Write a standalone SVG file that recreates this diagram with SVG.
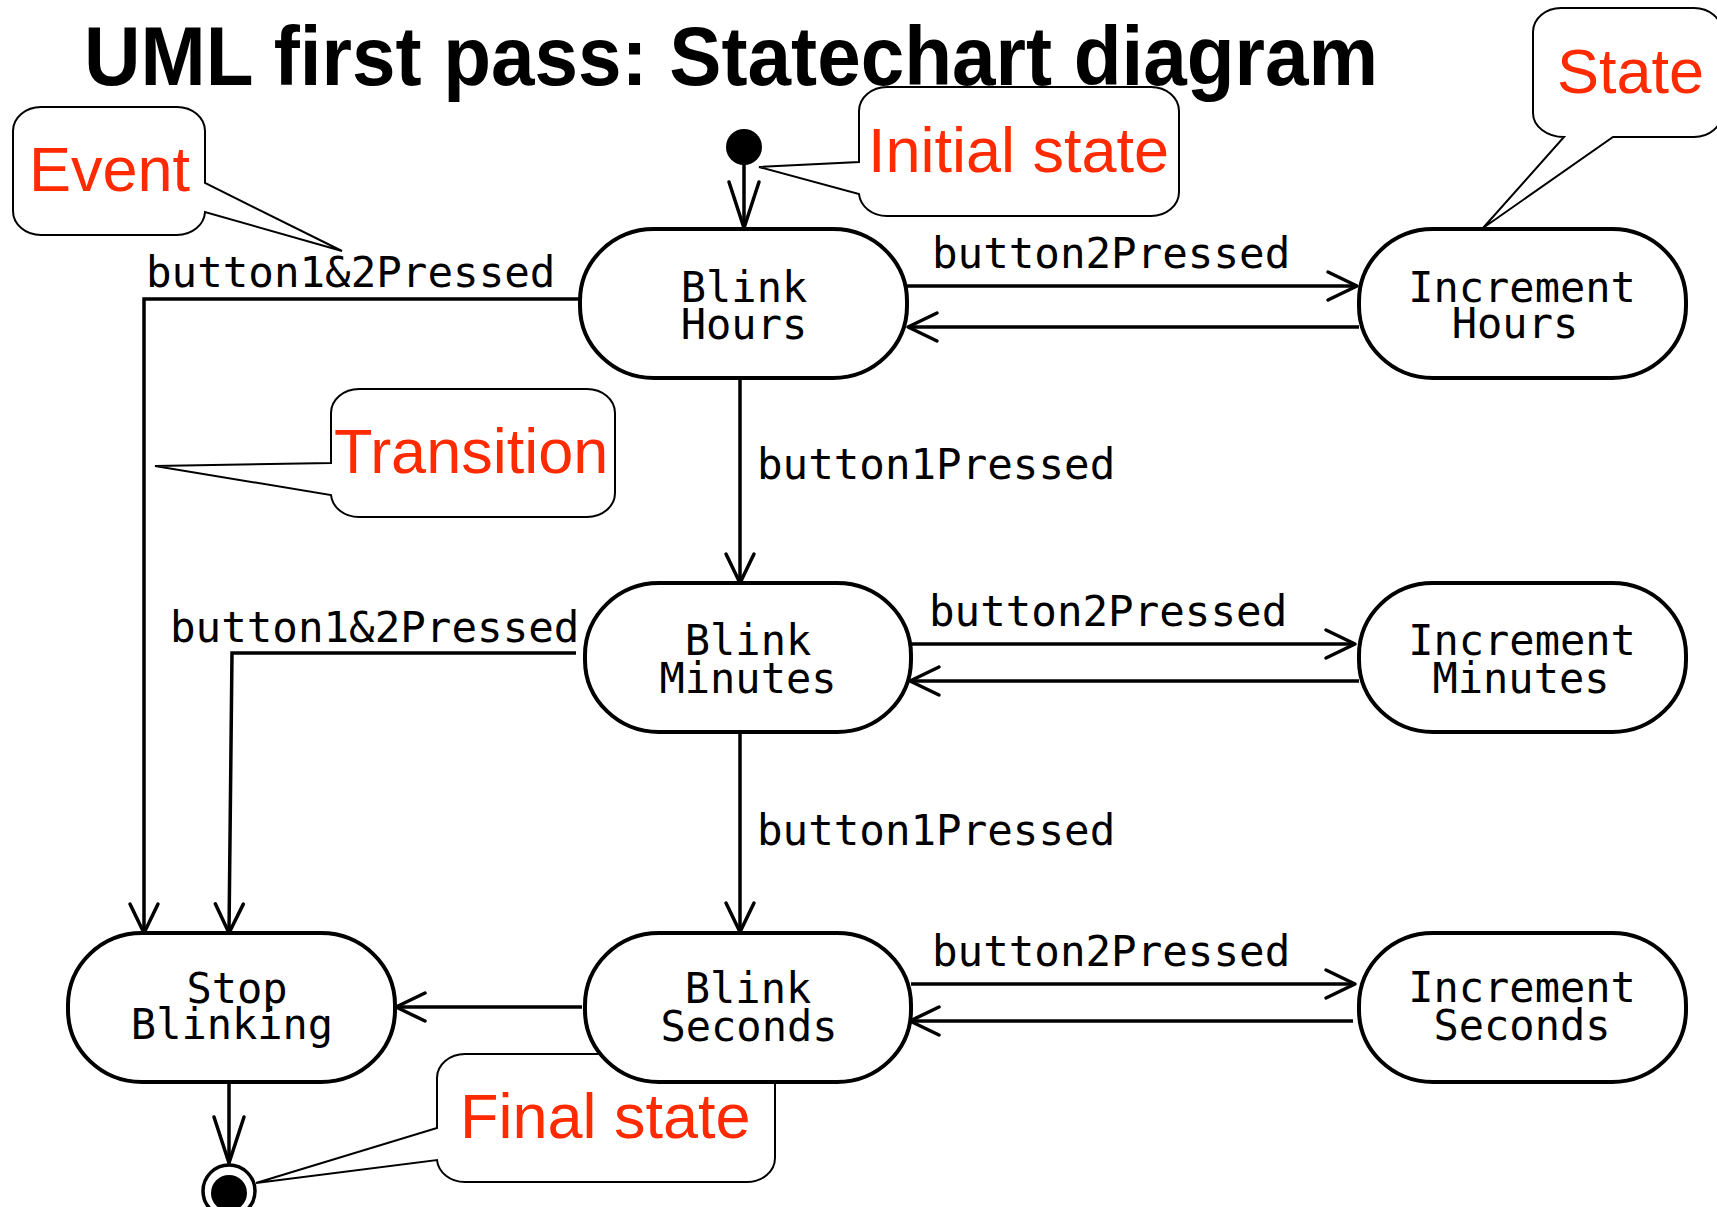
<svg xmlns="http://www.w3.org/2000/svg" width="1717" height="1207" viewBox="0 0 1717 1207">
<style>
  .node { fill: #fff; stroke: #000; stroke-width: 4; }
  .ntext { font-family: "DejaVu Sans Mono", "Liberation Mono", monospace; font-size: 42px; fill: #000; text-anchor: middle; }
  .lbl { font-family: "DejaVu Sans Mono", "Liberation Mono", monospace; font-size: 42.5px; fill: #000; }
  .conn { fill: none; stroke: #000; stroke-width: 3.5; }
  .callout { fill: #fff; stroke: #000; stroke-width: 2; stroke-linejoin: miter; }
  .ctext { font-family: "Liberation Sans", Arial, sans-serif; font-size: 63px; fill: #FF2A00; }
  .title { font-family: "Liberation Sans", Arial, sans-serif; font-size: 84px; font-weight: bold; fill: #000; }
</style>
<defs>
  <marker id="arr" markerUnits="userSpaceOnUse" markerWidth="50" markerHeight="50" viewBox="-40 -25 50 50" refX="0" refY="0" orient="auto">
    <path d="M-29,-14 L0,0 L-29,14" fill="none" stroke="#000" stroke-width="3.5" stroke-linejoin="round" stroke-linecap="round"/>
  </marker>
  <marker id="arrL" markerUnits="userSpaceOnUse" markerWidth="70" markerHeight="50" viewBox="-60 -25 70 50" refX="0" refY="0" orient="auto">
    <path d="M-46,-15 L0,0 L-46,15" fill="none" stroke="#000" stroke-width="3.5" stroke-linejoin="round" stroke-linecap="round"/>
  </marker>
</defs>
<rect x="0" y="0" width="1717" height="1207" fill="#fff"/>

<text class="title" x="84" y="85" textLength="1294" lengthAdjust="spacingAndGlyphs">UML first pass: Statechart diagram</text>

<g id="callouts">
  <g id="callout-event">
    <path class="callout" d="M41,107 H177 A28,24 0 0 1 205,131 V183 L342,251 L205,212 A28,24 0 0 1 177,235 H41 A28,24 0 0 1 13,211 V131 A28,24 0 0 1 41,107 Z"/>
    <text class="ctext" x="29" y="191">Event</text>
  </g>
  <g id="callout-transition">
    <path class="callout" d="M359,389 H587 A28,24 0 0 1 615,413 V493 A28,24 0 0 1 587,517 H359 A28,24 0 0 1 331,495 L155,466 L331,463 V413 A28,24 0 0 1 359,389 Z"/>
    <text class="ctext" x="334" y="473">Transition</text>
  </g>
  <g id="callout-initial">
    <path class="callout" d="M887,87 H1151 A28,24 0 0 1 1179,111 V192 A28,24 0 0 1 1151,216 H887 A28,24 0 0 1 859,194 L759,167 L859,162 V111 A28,24 0 0 1 887,87 Z"/>
    <text class="ctext" x="868" y="172">Initial state</text>
  </g>
  <g id="callout-state">
    <path class="callout" d="M1561,8 H1694 A28,24 0 0 1 1722,32 V113 A28,24 0 0 1 1694,137 H1613 L1483,228 L1564,137 A31,24 0 0 1 1533,113 V32 A28,24 0 0 1 1561,8 Z"/>
    <text class="ctext" x="1557" y="93">State</text>
  </g>
  <g id="callout-final">
    <path class="callout" d="M465,1054 H747 A28,24 0 0 1 775,1078 V1158 A28,24 0 0 1 747,1182 H465 A28,24 0 0 1 437,1160 L256,1183 L437,1128 V1078 A28,24 0 0 1 465,1054 Z"/>
    <text class="ctext" x="460" y="1138">Final state</text>
  </g>
</g>

<g id="connectors">
  <path class="conn" d="M744,160 V228" marker-end="url(#arrL)"/>
  <path class="conn" d="M907,286 H1357" marker-end="url(#arr)"/>
  <path class="conn" d="M1359,327 H908" marker-end="url(#arr)"/>
  <path class="conn" d="M740,376 V583" marker-end="url(#arr)"/>
  <path class="conn" d="M580,299 H144 V933" marker-end="url(#arr)"/>
  <path class="conn" d="M911,644 H1355" marker-end="url(#arr)"/>
  <path class="conn" d="M1359,681 H910" marker-end="url(#arr)"/>
  <path class="conn" d="M576,653 H232 L229,933" marker-end="url(#arr)"/>
  <path class="conn" d="M740,731 V932" marker-end="url(#arr)"/>
  <path class="conn" d="M911,984 H1355" marker-end="url(#arr)"/>
  <path class="conn" d="M1353,1021 H910" marker-end="url(#arr)"/>
  <path class="conn" d="M582,1007 H396" marker-end="url(#arr)"/>
  <path class="conn" d="M229,1083 V1163" marker-end="url(#arrL)"/>
</g>

<g id="labels">
  <text class="lbl" x="146" y="287">button1&amp;2Pressed</text>
  <text class="lbl" x="932" y="268">button2Pressed</text>
  <text class="lbl" x="757" y="479">button1Pressed</text>
  <text class="lbl" x="170" y="642">button1&amp;2Pressed</text>
  <text class="lbl" x="929" y="626">button2Pressed</text>
  <text class="lbl" x="757" y="845">button1Pressed</text>
  <text class="lbl" x="932" y="966">button2Pressed</text>
</g>

<g id="initial-state">
  <circle cx="744" cy="147" r="18" fill="#000"/>
</g>

<g id="blink-hours">
  <rect class="node" x="580" y="229" width="327" height="149" rx="74" ry="72"/>
  <text class="ntext" x="744" y="302">Blink</text>
  <text class="ntext" x="744" y="339">Hours</text>
</g>
<g id="increment-hours">
  <rect class="node" x="1359" y="229" width="327" height="149" rx="74" ry="72"/>
  <text class="ntext" x="1522" y="302">Increment</text>
  <text class="ntext" x="1515" y="338">Hours</text>
</g>
<g id="blink-minutes">
  <rect class="node" x="585" y="583" width="326" height="149" rx="74" ry="72"/>
  <text class="ntext" x="748" y="655">Blink</text>
  <text class="ntext" x="748" y="693">Minutes</text>
</g>
<g id="increment-minutes">
  <rect class="node" x="1359" y="583" width="327" height="149" rx="74" ry="72"/>
  <text class="ntext" x="1522" y="655">Increment</text>
  <text class="ntext" x="1521" y="693">Minutes</text>
</g>
<g id="stop-blinking">
  <rect class="node" x="68" y="933" width="327" height="149" rx="74" ry="72"/>
  <text class="ntext" x="237" y="1003">Stop</text>
  <text class="ntext" x="232" y="1039">Blinking</text>
</g>
<g id="blink-seconds">
  <rect class="node" x="585" y="933" width="326" height="149" rx="74" ry="72"/>
  <text class="ntext" x="748" y="1003">Blink</text>
  <text class="ntext" x="749" y="1041">Seconds</text>
</g>
<g id="increment-seconds">
  <rect class="node" x="1359" y="933" width="327" height="149" rx="74" ry="72"/>
  <text class="ntext" x="1522" y="1002">Increment</text>
  <text class="ntext" x="1522" y="1040">Seconds</text>
</g>

<g id="final-state">
  <circle cx="229" cy="1191" r="26" fill="#fff" stroke="#000" stroke-width="3.5"/>
  <circle cx="229" cy="1193" r="18" fill="#000"/>
</g>
</svg>
